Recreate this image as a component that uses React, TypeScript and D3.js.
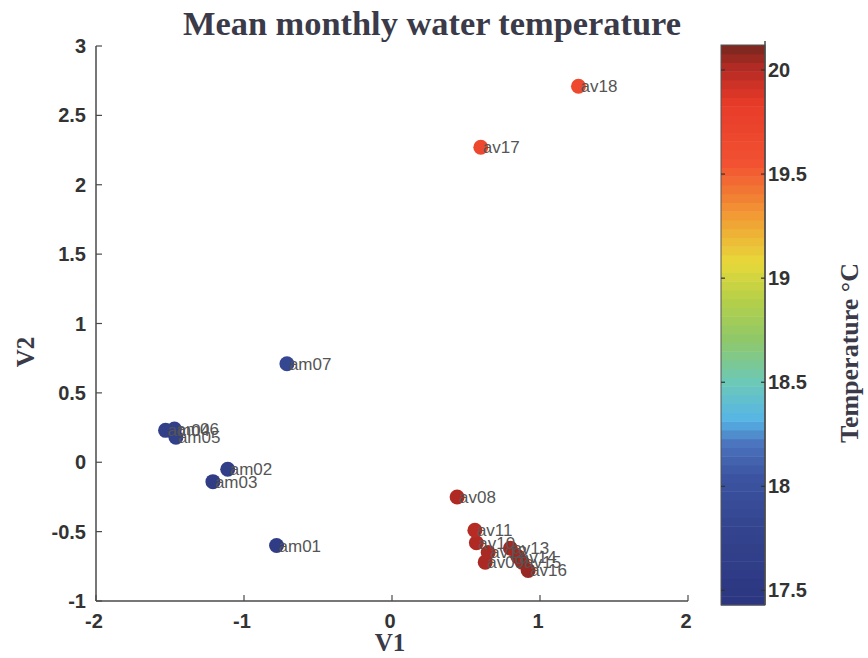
import React from "react";
import * as d3 from "d3";

const labels = ["am01","am02","am03","am04","am05","am06","am07","av08","av09","av10","av11","av12","av13","av14","av15","av16","av17","av18"];
const v1 = [-0.78,-1.11,-1.21,-1.53,-1.46,-1.47,-0.71,0.44,0.63,0.57,0.56,0.65,0.80,0.85,0.88,0.92,0.60,1.26];
const v2 = [-0.60,-0.05,-0.14,0.23,0.18,0.24,0.71,-0.25,-0.72,-0.58,-0.49,-0.65,-0.62,-0.68,-0.72,-0.78,2.27,2.71];
const temperature = [17.6,17.65,17.6,17.7,17.7,17.7,17.85,20.02,20.03,20.02,20.0,20.03,20.04,20.05,20.05,20.06,19.68,19.66];

const xTicks = [-2,-1,0,1,2];
const yTicks = [-1,-0.5,0,0.5,1,1.5,2,2.5,3];
const cTicks = [17.5,18,18.5,19,19.5,20];
const cRange = [17.43, 20.12];
const cmapStops = [17.43,17.8,18.05,18.2,18.32,18.5,18.7,18.9,19.08,19.3,19.55,19.85,20.02,20.12];
const cmapColors = ["#2c3580","#34448e","#3c54a2","#4a72bc","#56b4e6","#6cc8b8","#8ec86a","#b6d048","#e8d83a","#f29a34","#f25232","#e63a28","#b02a24","#74281f"];

const W = 868, H = 658;
const plot = { left: 96, right: 688, top: 46, bottom: 601 };
const bar = { left: 721, right: 765, top: 45, bottom: 605 };

export default function App() {
  const x = d3.scaleLinear().domain([-2, 2]).range([plot.left, plot.right]);
  const y = d3.scaleLinear().domain([-1, 3]).range([plot.bottom, plot.top]);
  const cy = d3.scaleLinear().domain(cRange).range([bar.bottom, bar.top]);
  const color = d3.scaleLinear<string>().domain(cmapStops).range(cmapColors).interpolate(d3.interpolateRgb).clamp(true);

  const nBands = 64;
  const bands = d3.range(nBands).map(i => {
    const t0 = cRange[0] + (cRange[1] - cRange[0]) * i / nBands;
    const t1 = cRange[0] + (cRange[1] - cRange[0]) * (i + 1) / nBands;
    return { t0, t1, c: color((t0 + t1) / 2) };
  });

  const tickFont = "'Liberation Sans', Arial, sans-serif";
  const serif = "'Liberation Serif', 'Times New Roman', serif";
  const axisCol = "#4a4a4a";

  return (
    <svg width={W} height={H} style={{ position: "absolute", left: 0, top: 0, background: "#fff" }}>
      <text x={432} y={35} textAnchor="middle" fontFamily={serif} fontWeight="bold" fontSize={33} fill="#3a3a48" textLength={498} lengthAdjust="spacingAndGlyphs">Mean monthly water temperature</text>

      {/* axes */}
      <line x1={plot.left} x2={plot.left} y1={plot.top} y2={plot.bottom} stroke={axisCol} strokeWidth={1.5} />
      <line x1={plot.left} x2={plot.right} y1={plot.bottom} y2={plot.bottom} stroke={axisCol} strokeWidth={1.5} />
      {xTicks.map(t => (
        <g key={"x" + t}>
          <line x1={x(t)} x2={x(t)} y1={plot.bottom} y2={plot.bottom - 6} stroke={axisCol} strokeWidth={1.2} />
          <text x={x(t) - 2} y={plot.bottom + 27} textAnchor="middle" fontFamily={tickFont} fontWeight="bold" fontSize={20} fill="#333">{t}</text>
        </g>
      ))}
      {yTicks.map(t => (
        <g key={"y" + t}>
          <line x1={plot.left} x2={plot.left + 6} y1={y(t)} y2={y(t)} stroke={axisCol} strokeWidth={1.2} />
          <text x={plot.left - 10} y={y(t) + 7} textAnchor="end" fontFamily={tickFont} fontWeight="bold" fontSize={20} fill="#333">{t}</text>
        </g>
      ))}
      <text x={390} y={651} textAnchor="middle" fontFamily={serif} fontWeight="bold" fontSize={25} fill="#3a3a48">V1</text>
      <text transform={`translate(34,352) rotate(-90)`} textAnchor="middle" fontFamily={serif} fontWeight="bold" fontSize={25} fill="#3a3a48">V2</text>

      {/* points */}
      {labels.map((l, i) => (
        <circle key={"c" + l} cx={x(v1[i])} cy={y(v2[i])} r={7.5} fill={color(temperature[i])} />
      ))}
      {labels.map((l, i) => (
        <text key={"t" + l} x={x(v1[i]) + 2} y={y(v2[i]) + 6} fontFamily={tickFont} fontSize={17} fill="#555">{l}</text>
      ))}

      {/* colorbar */}
      {bands.map((b, i) => (
        <rect key={"b" + i} x={bar.left} width={bar.right - bar.left} y={cy(b.t1)} height={cy(b.t0) - cy(b.t1) + 0.5} fill={b.c} />
      ))}
      <rect x={bar.left} y={bar.top} width={bar.right - bar.left} height={bar.bottom - bar.top} fill="none" stroke="#555" strokeWidth={1} />
      <line x1={bar.right} x2={bar.right} y1={bar.top - 4} y2={bar.bottom} stroke={axisCol} strokeWidth={1.5} />
      {cTicks.map(t => (
        <g key={"ct" + t}>
          <line x1={bar.left} x2={bar.left + 4} y1={cy(t)} y2={cy(t)} stroke="#333" strokeWidth={1.2} />
          <line x1={bar.right - 4} x2={bar.right} y1={cy(t)} y2={cy(t)} stroke="#333" strokeWidth={1.2} />
          <text x={bar.right + 3} y={cy(t) + 7} fontFamily={tickFont} fontWeight="bold" fontSize={20} fill="#333">{t}</text>
        </g>
      ))}
      <text transform={`translate(858,353) rotate(-90)`} textAnchor="middle" fontFamily={serif} fontWeight="bold" fontSize={26} fill="#3a3a48">Temperature °C</text>
    </svg>
  );
}
